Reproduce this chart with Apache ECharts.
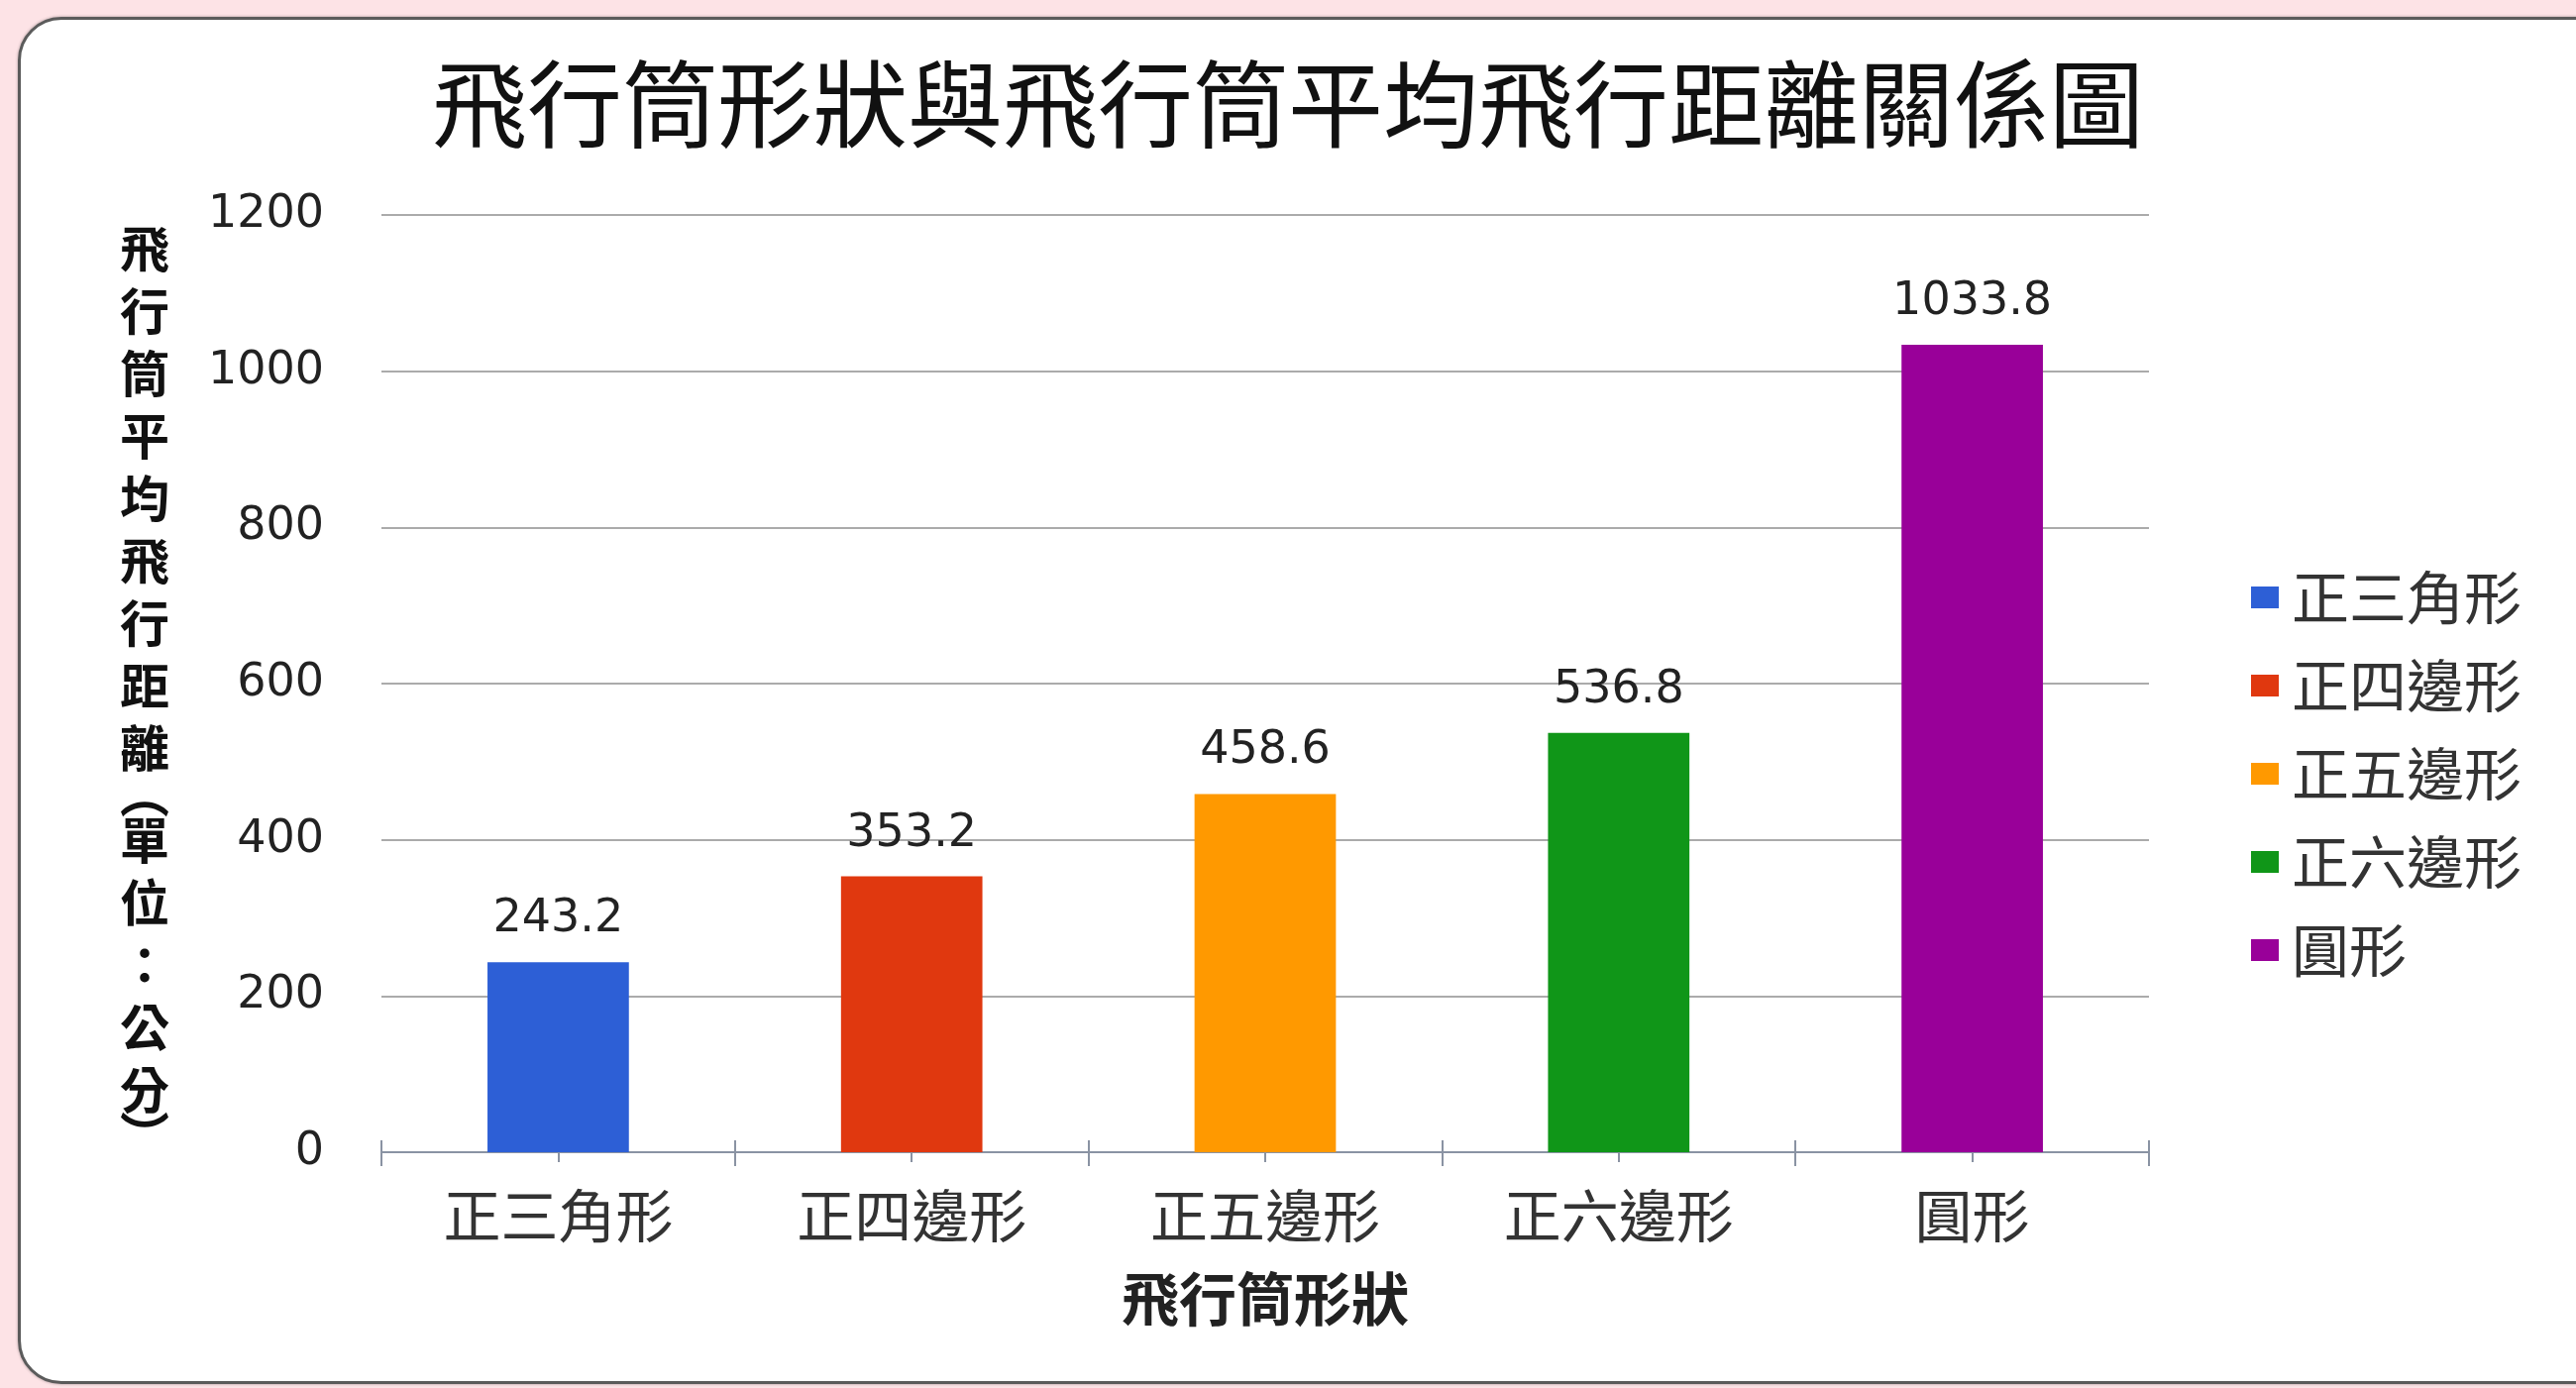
<!DOCTYPE html>
<html>
<head>
<meta charset="utf-8">
<script src="https://cdn.jsdelivr.net/npm/echarts@6/dist/echarts.min.js"></script>
<style>
  html, body { margin: 0; padding: 0; background: #fde3e6; overflow: hidden; }
  #card {
    position: absolute; left: 18px; top: 17px;
    width: 2640px; height: 1374px;
    background: #ffffff;
    border: 3px solid #5b5b5b;
    border-radius: 44px;
    box-shadow: 0 0 3px rgba(0, 0, 0, 0.35);
  }
  #chart { position: absolute; left: 0; top: 0; width: 2600px; height: 1401px; }
</style>
</head>
<body>
<div id="card"></div>
<div id="chart"></div>
<script>
// Titles
const chartTitle = '飛行筒形狀與飛行筒平均飛行距離關係圖';
const xAxisTitle = '飛行筒形狀';
const yAxisTitle = '飛行筒平均飛行距離(單位：公分)';

// Data: average flight distance (cm) per tube shape
const categories = ['正三角形', '正四邊形', '正五邊形', '正六邊形', '圓形'];
const distances = [243.2, 353.2, 458.6, 536.8, 1033.8];
const barColors = ['#2d5fd6', '#e0380f', '#ff9900', '#109618', '#990099'];

// Value axis ticks
const yMin = 0;
const yMax = 1200;
const yStep = 200;

const cjkFont = "'Noto Sans CJK TC', 'Noto Sans CJK SC', sans-serif";
const numFont = "'DejaVu Sans', sans-serif";
const axisGray = '#8a93a3';

// Vertical axis title: one character per line, brackets in vertical form
const yNameRich = yAxisTitle.split('').map(ch => {
  if (ch === '(') return '{p|︵}';
  if (ch === ')') return '{p|︶}';
  return '{c|' + ch + '}';
}).join('\n');

// One series per shape, stacked so each bar sits centred in its own category
const series = categories.map((name, i) => ({
  name: name,
  type: 'bar',
  stack: 'shapes',
  barWidth: '40%',
  xAxisIndex: 0,
  itemStyle: { color: barColors[i] },
  label: {
    show: true,
    position: 'top',
    distance: 20,
    fontSize: 46,
    fontFamily: numFont,
    color: '#222',
    formatter: p => Number(p.value).toFixed(1)
  },
  data: distances.map((v, j) => (j === i ? v : '-'))
}));

const chart = echarts.init(document.getElementById('chart'), null, { renderer: 'canvas' });

chart.setOption({
  backgroundColor: 'transparent',
  animation: false,
  title: {
    text: chartTitle,
    left: 'center',
    top: 50,
    textStyle: { fontFamily: cjkFont, fontSize: 96, lineHeight: 100, fontWeight: 'normal', color: '#111' }
  },
  legend: {
    orient: 'vertical',
    left: 2267,
    top: 569,
    icon: 'rect',
    itemWidth: 28,
    itemHeight: 22,
    itemGap: 31,
    data: categories,
    textStyle: { fontFamily: cjkFont, fontSize: 58, lineHeight: 58, color: '#333', padding: [0, 0, 0, 8] }
  },
  grid: { left: 385, right: 431, top: 217, bottom: 238, containLabel: false },
  xAxis: [
    {
      type: 'category',
      data: categories,
      position: 'bottom',
      name: xAxisTitle,
      nameLocation: 'middle',
      nameGap: 119,
      nameTextStyle: { fontFamily: cjkFont, fontSize: 58, lineHeight: 58, fontWeight: 'bold', color: '#222' },
      axisLine: { show: true, lineStyle: { color: axisGray, width: 2 } },
      axisTick: { show: true, alignWithLabel: false, length: 14, lineStyle: { color: axisGray, width: 2 } },
      axisLabel: { fontFamily: cjkFont, fontSize: 58, lineHeight: 58, color: '#333', margin: 35 },
      splitLine: { show: false }
    },
    {
      // upper half of the boundary tick marks
      type: 'category',
      data: categories,
      position: 'bottom',
      offset: 0,
      axisLine: { show: false },
      axisTick: { show: true, inside: true, alignWithLabel: false, length: 12, lineStyle: { color: axisGray, width: 2 } },
      axisLabel: { show: false },
      splitLine: { show: false }
    },
    {
      // short marks under each bar centre
      type: 'category',
      data: categories,
      position: 'bottom',
      offset: 0,
      axisLine: { show: false },
      axisTick: { show: true, alignWithLabel: true, length: 10, lineStyle: { color: axisGray, width: 2 } },
      axisLabel: { show: false },
      splitLine: { show: false }
    }
  ],
  yAxis: {
    type: 'value',
    min: yMin,
    max: yMax,
    interval: yStep,
    name: yNameRich,
    nameLocation: 'middle',
    nameRotate: 0,
    nameGap: 214,
    nameTextStyle: {
      rich: {
        c: { fontFamily: cjkFont, fontSize: 50, lineHeight: 63, fontWeight: 'bold', color: '#111' },
        p: { fontFamily: cjkFont, fontSize: 50, lineHeight: 30, fontWeight: 'bold', color: '#111' }
      }
    },
    axisLine: { show: false },
    axisTick: { show: false },
    axisLabel: { fontFamily: numFont, fontSize: 46, color: '#222', margin: 58, formatter: v => String(v) },
    splitLine: { show: true, lineStyle: { color: '#ababab', width: 2 } }
  },
  series: series
});
</script>
</body>
</html>
